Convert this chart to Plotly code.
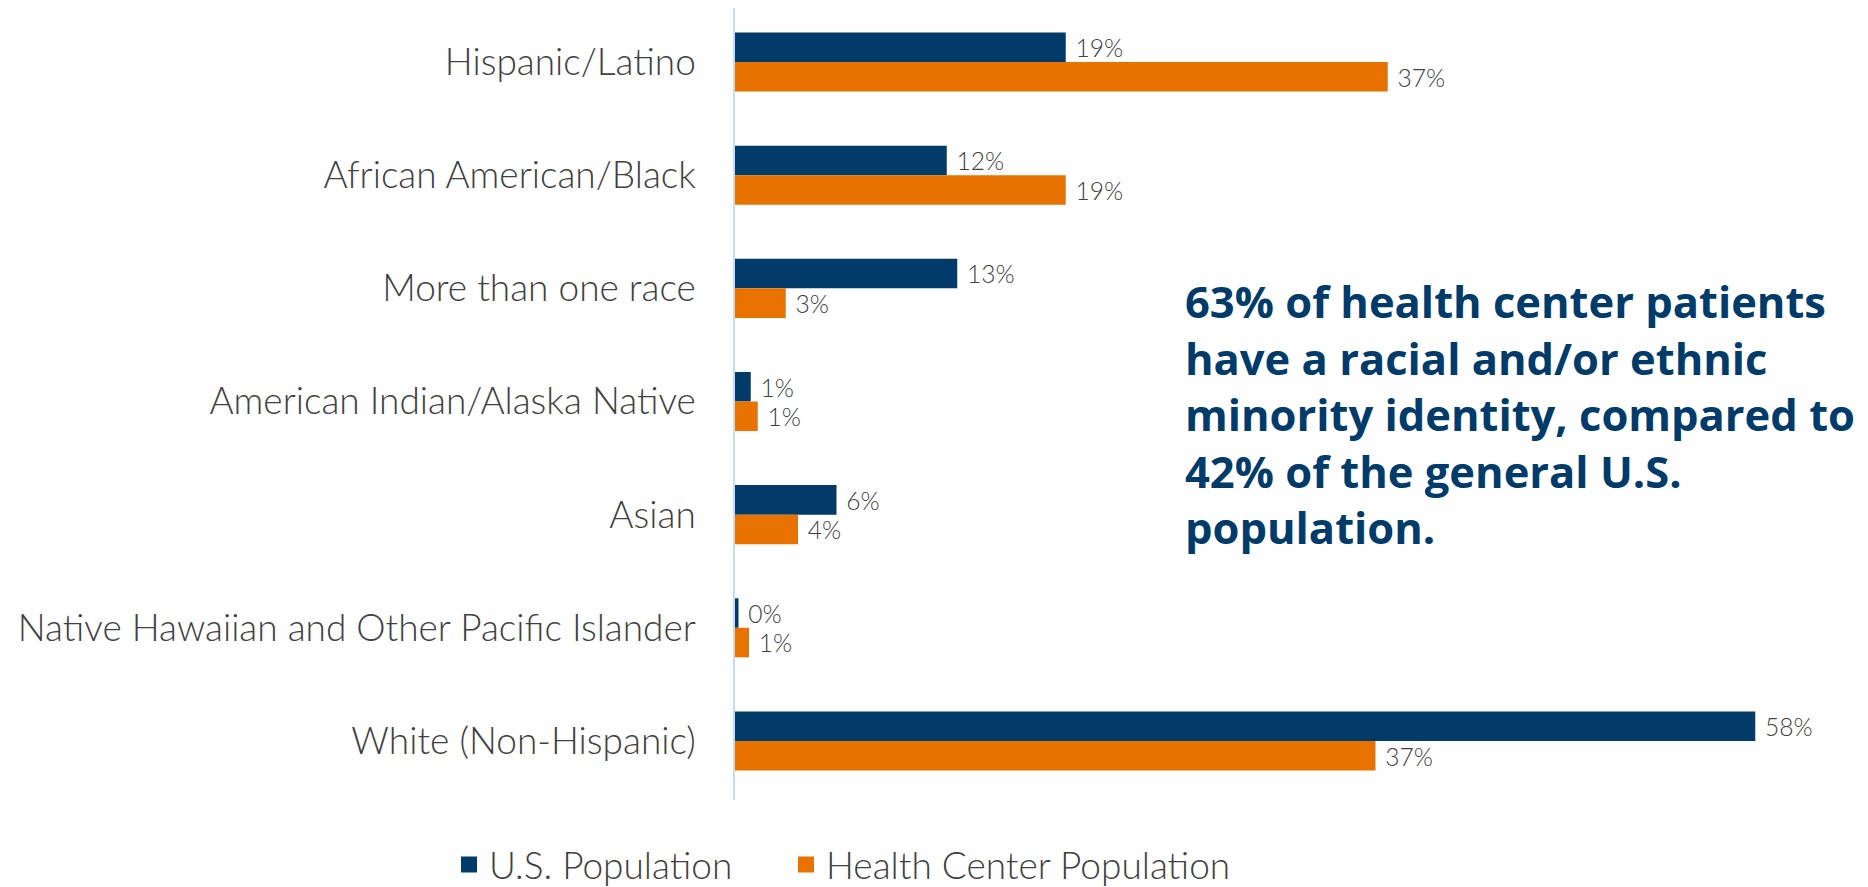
import plotly.graph_objects as go

# ─── Data ─────────────────────────────────────────────────────────────────────

CATEGORIES = [
    "Hispanic/Latino",
    "African American/Black",
    "More than one race",
    "American Indian/Alaska Native",
    "Asian",
    "Native Hawaiian and Other Pacific Islander",
    "White (Non-Hispanic)",
]
US_POP     = [18.9, 12.1, 12.7, 0.9, 5.8, 0.2, 58.3]
HC_POP     = [37.3, 18.9, 2.9, 1.3, 3.6, 0.8, 36.6]
SERIES     = ["U.S. Population", "Health Center Population"]

CALLOUT = ("63% of health center patients<br>have a racial and/or ethnic<br>"
           "minority identity, compared to<br>42% of the general U.S.<br>population.")

# ─── Style ────────────────────────────────────────────────────────────────────

NAVY   = "#003B69"
ORANGE = "#E87200"
GREY   = "#404040"
AXIS   = "#C5DDF3"
FONT   = "Lato, 'Open Sans', sans-serif"
BOLD   = "'Open Sans', Lato, sans-serif"

fig = go.Figure()
for name, vals, color, leg in [(SERIES[0], US_POP, NAVY, "legend"),
                               (SERIES[1], HC_POP, ORANGE, "legend2")]:
    fig.add_trace(go.Bar(
        y=CATEGORIES, x=vals, name=name, orientation="h", showlegend=False,
        marker=dict(color=color, line=dict(width=0)),
        texttemplate="\u00a0%{x:.0f}%", textposition="outside",
        textfont=dict(family=FONT, size=25, color=GREY, weight=300),
        cliponaxis=False,
    ))
    # legend-only entry so the key square can be larger than the bar default
    fig.add_trace(go.Scatter(
        x=[None], y=[None], name=name, mode="markers", legend=leg,
        marker=dict(color=color, symbol="square", size=22),
    ))

fig.add_annotation(
    text=CALLOUT, xref="paper", yref="paper",
    x=0.4267, y=0.487, xanchor="left", yanchor="middle",
    align="left", showarrow=False,
    font=dict(family=BOLD, size=43.5, color=NAVY, weight="bold"),
)

legend_style = dict(
    orientation="h", xref="container", xanchor="left",
    y=-0.082, yanchor="middle", itemsizing="trace",
    font=dict(family=FONT, size=37, color=GREY, weight=300),
    itemclick=False, itemdoubleclick=False,
)

# page body adds an 8px offset, so the figure is sized to the visible window
fig.update_layout(
    width=1860, height=879,
    paper_bgcolor="white", plot_bgcolor="white",
    margin=dict(l=727, r=83, t=0, b=87, autoexpand=False),
    barmode="group", bargap=0.478, bargroupgap=0,
    font=dict(family=FONT, color=GREY, weight=300),
    showlegend=True,
    legend=dict(x=441 / 1860, **legend_style),
    legend2=dict(x=778 / 1860, **legend_style),
    xaxis=dict(range=[0, 60], visible=False, showgrid=False, zeroline=False),
    yaxis=dict(
        range=[6.522, -0.478], showgrid=False, zeroline=False, automargin=False,
        showline=True, linecolor=AXIS, linewidth=1.5, ticks="",
        ticklabelstandoff=30,
        tickfont=dict(family=FONT, size=37, color=GREY, weight=300),
    ),
)

fig.write_html("out.html")
